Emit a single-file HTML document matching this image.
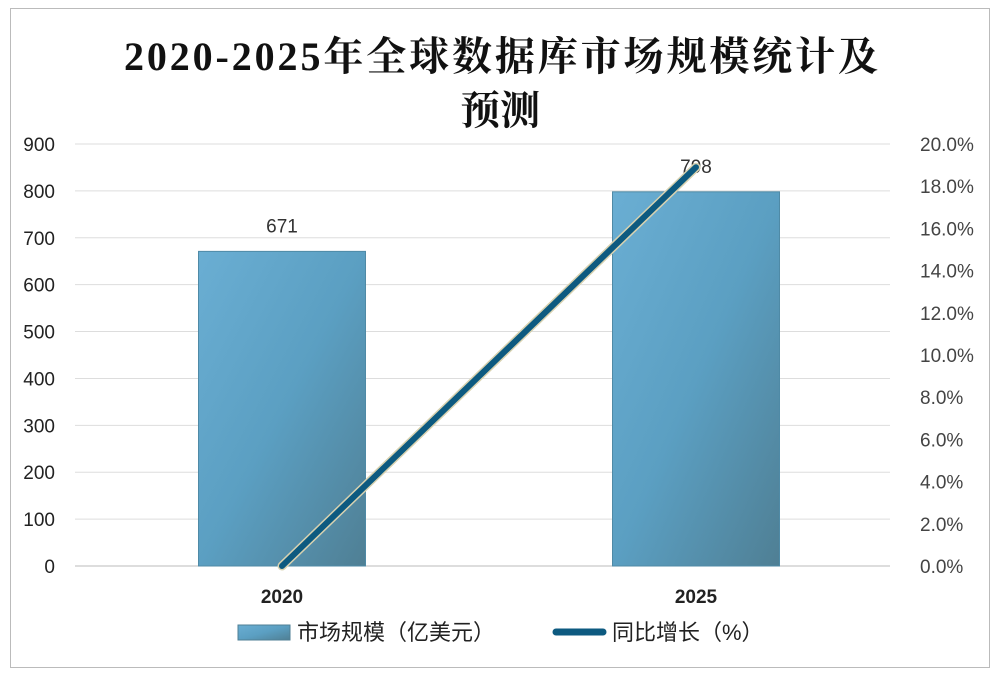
<!DOCTYPE html>
<html><head><meta charset="utf-8"><style>
body{margin:0;background:#fff;width:998px;height:680px;overflow:hidden}
text{font-family:"Liberation Sans","Noto Sans CJK SC",sans-serif}
</style></head><body>
<svg id="chart" width="998" height="680" xmlns="http://www.w3.org/2000/svg">
<defs>
<linearGradient id="bg" x1="0" y1="0" x2="1" y2="1">
<stop offset="0" stop-color="#6aaed3"/><stop offset="0.5" stop-color="#5b9fc2"/><stop offset="1" stop-color="#4f7f94"/>
</linearGradient>
</defs>
<rect x="10.5" y="8.5" width="979" height="659" fill="#fff" stroke="#bbb"/>
<text x="124" y="70" textLength="754" lengthAdjust="spacing" font-size="40" font-weight="bold" style="font-family:'Liberation Serif','Noto Serif CJK SC',serif" fill="#111">2020-2025年全球数据库市场规模统计及</text>
<text x="500" y="124" text-anchor="middle" font-size="40" font-weight="bold" style="font-family:'Liberation Serif','Noto Serif CJK SC',serif" fill="#111">预测</text>
<g id="grid"></g><g id="bars"></g><g id="line"></g><g id="axes"></g>
<g>
<rect x="238" y="625" width="52" height="15" fill="url(#bg)" stroke="#4f7f94"/>
<text x="297" y="640" font-size="22" fill="#222">市场规模（亿美元）</text>
<line x1="556" y1="632" x2="603" y2="632" stroke="#0d5a80" stroke-width="7" stroke-linecap="round"/>
<text x="612" y="640" font-size="22" fill="#222">同比增长（%）</text>
</g>
</svg>
<script>
const categories=["2020","2025"];
const marketValues=[671,798];
const growthValues=[0.0,18.9];
const leftTicks=[0,100,200,300,400,500,600,700,800,900];
const rightTicks=["0.0%","2.0%","4.0%","6.0%","8.0%","10.0%","12.0%","14.0%","16.0%","18.0%","20.0%"];
const NS="http://www.w3.org/2000/svg";
const x0=75,x1=903,gridEnd=890,yb=566,yt=144;
const yL=v=>yb-(v/900)*(yb-yt);
const yR=v=>yb-(v/20)*(yb-yt);
const band=(x1-x0)/categories.length;
const xC=i=>x0+band*(i+0.5);
function mk(p,t,a,txt){const e=document.createElementNS(NS,t);for(const k in a)e.setAttribute(k,a[k]);if(txt!==undefined)e.textContent=txt;document.getElementById(p).appendChild(e);return e;}
leftTicks.forEach((v,i)=>{
 const g=mk('grid','line',{x1:x0,x2:gridEnd,y1:yL(v),y2:yL(v),stroke:i===0?'#bbb':'#ddd','stroke-width':1});
 
 const t=mk('axes','text',{x:55,y:yL(v)+7,'text-anchor':'end','font-size':19,fill:'#222'},v);
 
});
rightTicks.forEach((s,i)=>{
 const t=mk('axes','text',{x:920,y:yR(i*2)+7,'font-size':19,fill:'#444'},s);
 
});
categories.forEach((c,i)=>{
 const cx=xC(i),w=167;
 const r=mk('bars','rect',{x:cx-w/2,y:yL(marketValues[i]),width:w,height:yb-yL(marketValues[i]),fill:'url(#bg)',stroke:'#4f8aa6'});
 
 const l=mk('bars','text',{x:cx,y:yL(marketValues[i])-19,'text-anchor':'middle','font-size':19,fill:'#333'},marketValues[i]);
 
 const t=mk('axes','text',{x:cx,y:603,'text-anchor':'middle','font-size':19,'font-weight':'bold',fill:'#222'},c);
 
});
const pts=categories.map((c,i)=>xC(i)+','+yR(growthValues[i])).join(' ');
const sh=mk('line','polyline',{points:pts,fill:'none',stroke:'#d8d2b0','stroke-width':9,'stroke-linecap':'round'});

const pl=mk('line','polyline',{points:pts,fill:'none',stroke:'#0d5a80','stroke-width':6,'stroke-linecap':'round'});

</script>
</body></html>
